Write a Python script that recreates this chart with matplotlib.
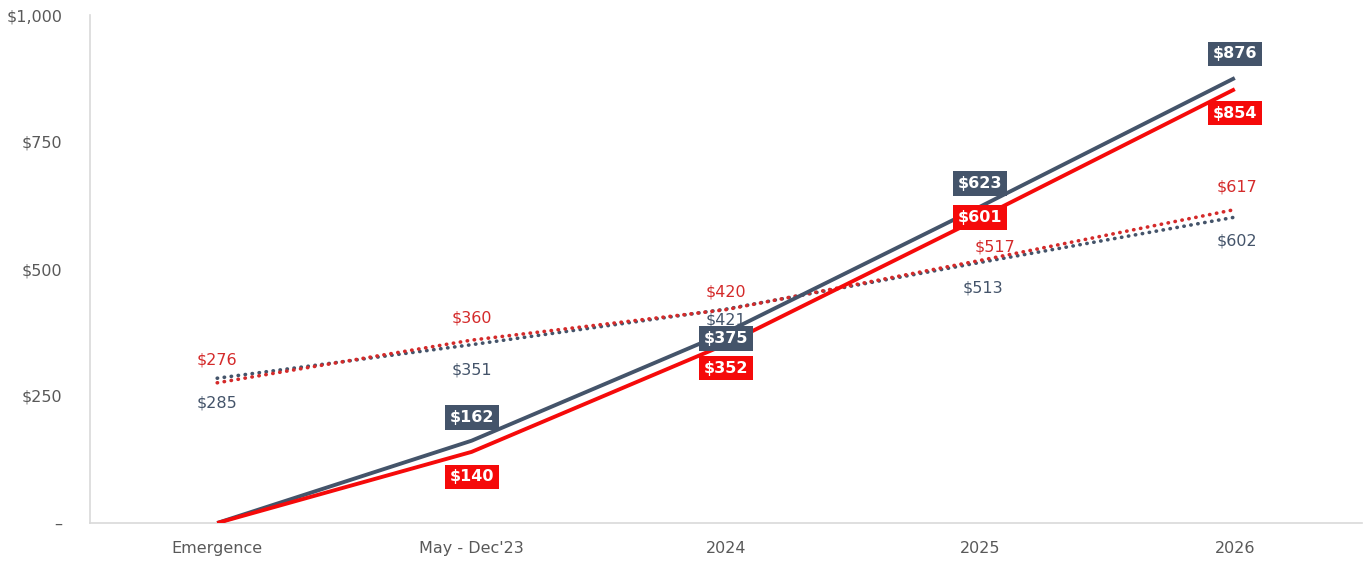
import matplotlib
matplotlib.use("Agg")
import matplotlib.pyplot as plt

categories = ["Emergence", "May - Dec'23", "2024", "2025", "2026"]
gray_solid = [0, 162, 375, 623, 876]
red_solid = [0, 140, 352, 601, 854]
gray_dotted = [285, 351, 421, 513, 602]
red_dotted = [276, 360, 420, 517, 617]
y_ticks = [0, 250, 500, 750, 1000]
y_tick_labels = ["\u2013", "$250", "$500", "$750", "$1,000"]

GRAY = "#44546A"
RED = "#F50A0A"
RED_TXT = "#D42A2A"
TICK = "#595959"

plt.rcParams['font.family'] = ['DejaVu Sans']

fig = plt.figure(figsize=(13.72, 5.63), dpi=100)
ax = fig.add_axes([90/1372, 40/563, 1272/1372, 508/563])
x = list(range(len(categories)))

dot = (0, (0.1, 1.85))
ax.plot(x, gray_dotted, color=GRAY, lw=2.6, ls=dot, dash_capstyle='round', zorder=2)
ax.plot(x, red_dotted, color=RED_TXT, lw=2.6, ls=dot, dash_capstyle='round', zorder=2)
ax.plot(x, gray_solid, color=GRAY, lw=2.8, zorder=3, solid_capstyle='butt')
ax.plot(x, red_solid, color=RED, lw=2.8, zorder=3, solid_capstyle='butt')

# pixel offsets (dx, dy) for labels
gs_off = [None, (0, 23), (0, -6), (0, 23), (0, 24)]
rs_off = [None, (0, -25), (0, -24), (0, 0), (0, -24)]
gd_off = [(0, -25), (0, -25), (0, -11), (3, -26), (2, -24)]
rd_off = [(0, 23), (0, 22), (0, 18), (15, 13), (2, 23)]

def pt(o):
    return (o[0] * 0.72, o[1] * 0.72)

for i, v in enumerate(gray_dotted):
    ax.annotate(f"${v}", (x[i], v), xytext=pt(gd_off[i]), textcoords='offset points',
                ha='center', va='center', fontsize=11.5, color=GRAY, zorder=4)
for i, v in enumerate(red_dotted):
    ax.annotate(f"${v}", (x[i], v), xytext=pt(rd_off[i]), textcoords='offset points',
                ha='center', va='center', fontsize=11.5, color=RED_TXT, zorder=4)
for i, v in enumerate(gray_solid):
    if gs_off[i] is None:
        continue
    ax.annotate(f"${v}", (x[i], v), xytext=pt(gs_off[i]), textcoords='offset points',
                ha='center', va='center', fontsize=11.5, color='white', fontweight='bold',
                zorder=6, bbox=dict(boxstyle='square,pad=0.3', fc=GRAY, ec='none'))
for i, v in enumerate(red_solid):
    if rs_off[i] is None:
        continue
    ax.annotate(f"${v}", (x[i], v), xytext=pt(rs_off[i]), textcoords='offset points',
                ha='center', va='center', fontsize=11.5, color='white', fontweight='bold',
                zorder=6, bbox=dict(boxstyle='square,pad=0.3', fc=RED, ec='none'))

ax.set_xlim(-0.5, 4.5)
ax.set_ylim(0, 1000)
ax.set_xticks(x)
ax.set_xticklabels(categories, fontsize=11.5, color=TICK)
ax.set_yticks(y_ticks)
ax.set_yticklabels(y_tick_labels, fontsize=11.5, color=TICK)
ax.tick_params(axis='both', length=0)
ax.tick_params(axis='x', pad=13)
ax.tick_params(axis='y', pad=20)
for s in ['top', 'right']:
    ax.spines[s].set_visible(False)
ax.spines['left'].set_color('#D9D9D9')
ax.spines['bottom'].set_color('#D9D9D9')
ax.spines['left'].set_linewidth(1.2)
ax.spines['bottom'].set_linewidth(1.2)

fig.savefig("out.png", dpi=100)
